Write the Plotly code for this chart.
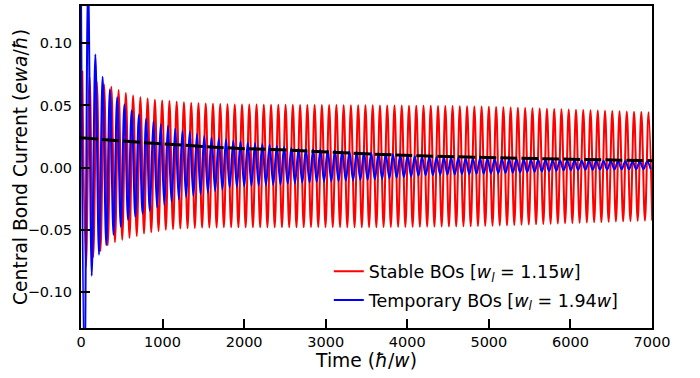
import plotly.graph_objects as go

# ---------------- data ----------------
# Stable BOs (red): extrema values, one per oscillation period
red_period = 89.0
red_first_max_t = 16.0
red_max = [0.078, 0.073, 0.069, 0.067, 0.065, 0.0625, 0.060, 0.058, 0.0566, 0.0555,
           0.0545, 0.054, 0.0535, 0.053, 0.0525, 0.052, 0.0518, 0.0515, 0.0513, 0.0511,
           0.0510,
           0.0508, 0.0508, 0.0507, 0.0507, 0.0506, 0.0506, 0.0505, 0.0505, 0.0505, 0.0504,
           0.0504, 0.0504, 0.0503, 0.0503, 0.0503, 0.0502, 0.0502, 0.0502, 0.0501, 0.0501,
           0.0500, 0.0500, 0.0499, 0.0499, 0.0498, 0.0498, 0.0497, 0.0497, 0.0496, 0.0495,
           0.0495, 0.0494, 0.0493, 0.0492, 0.0491, 0.0490,
           0.0488, 0.0486, 0.0484, 0.0482, 0.0480, 0.0478, 0.0476, 0.0474, 0.0472, 0.0470,
           0.0468, 0.0466, 0.0464, 0.0462, 0.0460, 0.0458, 0.0456, 0.0454, 0.0452, 0.0450,
           0.0448, 0.0446]
red_min = [-0.080, -0.072, -0.067, -0.0625, -0.060, -0.058, -0.0565, -0.055, -0.053, -0.052,
           -0.051, -0.050, -0.0495, -0.049, -0.0487, -0.0485, -0.0483, -0.0482, -0.0481, -0.0480,
           -0.0480,
           -0.0480, -0.0480, -0.0480, -0.0480, -0.0480, -0.0480, -0.0480, -0.0480, -0.0480, -0.0480,
           -0.0479, -0.0479, -0.0479, -0.0479, -0.0479, -0.0479, -0.0479, -0.0479, -0.0479, -0.0479,
           -0.0478, -0.0478, -0.0477, -0.0477, -0.0476, -0.0476, -0.0475, -0.0475, -0.0474, -0.0474,
           -0.0473, -0.0472, -0.0471, -0.0470, -0.0469, -0.0468,
           -0.0466, -0.0464, -0.0462, -0.0460, -0.0458, -0.0456, -0.0454, -0.0452, -0.0450, -0.0448,
           -0.0446, -0.0444, -0.0442, -0.0440, -0.0438, -0.0436, -0.0434, -0.0432, -0.0430, -0.0428,
           -0.0426, -0.0425]

# Temporary BOs (blue)
blue_period = 89.0
blue_first_min_t = 42.5
blue_start_t = 0.0
blue_start_v = 0.14
blue_min = [-0.170, -0.087, -0.070, -0.0625, -0.054, -0.0475, -0.042, -0.0395, -0.037, -0.0347,
            -0.0320, -0.0300, -0.0275, -0.0254, -0.0236, -0.0228, -0.0214, -0.0201, -0.0188, -0.0175,
            -0.0161, -0.0155, -0.0150, -0.0146, -0.0143, -0.0140, -0.0137, -0.0135, -0.0130, -0.0125,
            -0.0120, -0.0120, -0.0115, -0.0112, -0.0110, -0.0108, -0.0105, -0.0103, -0.0100, -0.0098,
            -0.0095, -0.0091, -0.0087, -0.0082, -0.0078, -0.0072, -0.0066, -0.0062, -0.0060, -0.0058,
            -0.0056, -0.0055, -0.0053, -0.0052, -0.0050, -0.0049, -0.0047, -0.0045, -0.0043, -0.0041,
            -0.0039, -0.0036, -0.0034, -0.0031, -0.0028, -0.0025, -0.0022, -0.0020, -0.0019, -0.0018,
            -0.0017, -0.0016, -0.0016, -0.0015, -0.0014, -0.0014, -0.0013, -0.0013, -0.0012]
blue_max = [0.150, 0.091, 0.073, 0.063, 0.0566, 0.0508, 0.046, 0.0425, 0.0394, 0.0373,
            0.0349, 0.0336, 0.0315, 0.0296, 0.0288, 0.0270, 0.0254, 0.0243, 0.0235, 0.0228,
            0.0217, 0.0210, 0.0203, 0.0196, 0.0190, 0.0184, 0.0175, 0.0168, 0.0160, 0.0152,
            0.0150, 0.0148, 0.0145, 0.0140, 0.0138, 0.0135, 0.0132, 0.0128, 0.0125, 0.0120,
            0.0116, 0.0112, 0.0107, 0.0102, 0.0097, 0.0092, 0.0088, 0.0085, 0.0083, 0.0081,
            0.0079, 0.0077, 0.0076, 0.0074, 0.0073, 0.0072, 0.0070, 0.0069, 0.0068, 0.0067,
            0.0066, 0.0064, 0.0063, 0.0061, 0.0060, 0.0059, 0.0058, 0.0057, 0.0056, 0.0056,
            0.0055, 0.0054, 0.0053, 0.0053, 0.0052, 0.0051, 0.0051, 0.0050]

# slowly decaying mean current (black dashed)
mean_t = [0, 785, 1888, 2450, 3560, 4170, 5270, 7000]
mean_v = [0.024, 0.0201, 0.0156, 0.0143, 0.0109, 0.0095, 0.0077, 0.0056]

x_ticks = [0, 1000, 2000, 3000, 4000, 5000, 6000, 7000]
y_ticks = [-0.10, -0.05, 0.00, 0.05, 0.10]

red_name = "Stable BOs [<i>w</i><sub><i>l</i></sub> = 1.15<i>w</i>]"
blue_name = "Temporary BOs [<i>w</i><sub><i>l</i></sub> = 1.94<i>w</i>]"
y_title = "Central Bond Current (<i>ewa</i>/<i>ħ</i>)"
x_title = "Time (<i>ħ</i>/<i>w</i>)"

# ---------------- build extrema sequences ----------------
red_t, red_v = [], []
for k in range(len(red_max)):
    red_t.append(red_first_max_t + k * red_period)
    red_v.append(red_max[k])
    if k < len(red_min):
        red_t.append(red_first_max_t + (k + 0.5) * red_period)
        red_v.append(red_min[k])

blue_t, blue_v = [blue_start_t], [blue_start_v]
for k in range(len(blue_min)):
    blue_t.append(blue_first_min_t + k * blue_period)
    blue_v.append(blue_min[k])
    if k < len(blue_max):
        blue_t.append(blue_first_min_t + (k + 0.5) * blue_period)
        blue_v.append(blue_max[k])

FONT = "DejaVu Sans"

fig = go.Figure()
fig.add_trace(go.Scatter(x=red_t, y=red_v, mode="lines", name=red_name,
                         line=dict(color="#ff0000", width=2, shape="spline", smoothing=1),
                         legendgroup="r"))
fig.add_trace(go.Scatter(x=blue_t, y=blue_v, mode="lines", name=blue_name,
                         line=dict(color="#0000ff", width=2, shape="spline", smoothing=1),
                         legendgroup="b"))
fig.add_trace(go.Scatter(x=mean_t, y=mean_v, mode="lines", showlegend=False,
                         line=dict(color="black", width=3, dash="17px,4px", shape="spline")))

axis_common = dict(showgrid=False, zeroline=False, showline=True, linecolor="black",
                   linewidth=2, mirror=True, ticks="inside", ticklen=9, tickwidth=1.5,
                   tickcolor="black", tickfont=dict(family=FONT, size=14.5, color="black"))

fig.update_xaxes(range=[0, 7000], tickvals=x_ticks, ticktext=[str(v) for v in x_ticks],
                 title=dict(text=x_title, font=dict(family=FONT, size=18.7, color="black"),
                            standoff=5),
                 **axis_common)
fig.update_yaxes(range=[-0.129, 0.130], tickvals=y_ticks,
                 ticktext=["\u22120.10", "\u22120.05", "0.00", "0.05", "0.10"],
                 ticklabelstandoff=4,
                 **axis_common)

fig.add_annotation(text=y_title, xref="paper", yref="paper",
                   x=(20 - 81) / 571, y=0.5, xanchor="center", yanchor="middle",
                   textangle=-90, showarrow=False,
                   font=dict(family=FONT, size=18.7, color="black"))

fig.update_layout(
    width=700, height=378,
    margin=dict(l=81, r=48, t=4, b=50),
    paper_bgcolor="white", plot_bgcolor="white",
    font=dict(family=FONT, color="black"),
    legend=dict(x=0.434, y=0.232, xanchor="left", yanchor="top",
                bgcolor="rgba(0,0,0,0)", borderwidth=0,
                font=dict(family=FONT, size=17.5, color="black"),
                traceorder="grouped", tracegroupgap=3),
)

fig.write_html("out.html", config={"displayModeBar": False},
               post_script="document.body.style.margin='0';")
